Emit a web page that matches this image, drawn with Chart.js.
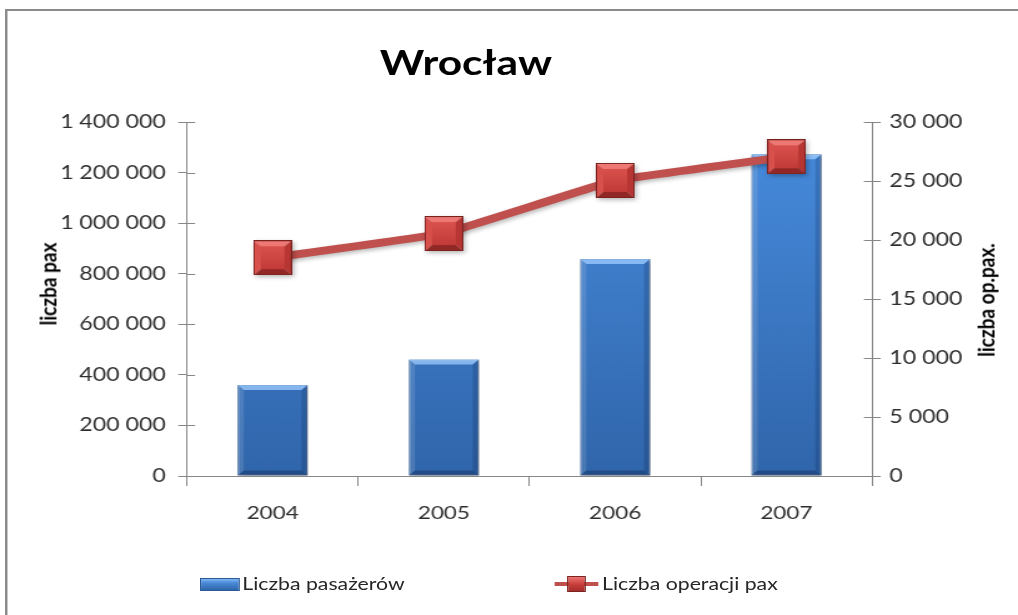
<!DOCTYPE html>
<html lang="pl">
<head>
<meta charset="utf-8">
<title>Wrocław</title>
<script src="https://cdn.jsdelivr.net/npm/chart.js@4.4.1/dist/chart.umd.min.js"></script>
<style>
  html, body { margin: 0; padding: 0; background: #fff; overflow: hidden; }
  /* the whole sheet is drawn narrow and widened, like the exported picture */
  #sheet {
    position: absolute; left: 0; top: 0;
    width: 815px; height: 615px;
    transform-origin: 0 0;
    transform: scaleX(1.2491);
    font-family: Lato, "Open Sans", sans-serif;
    color: #262626;
  }
  #frame {
    position: absolute; left: 4px; top: 9px;
    width: 900px; height: 700px;
    border-left: 2px solid #8c8c8c;
    border-top: 2.5px solid #8c8c8c;
  }
  #chart { position: absolute; left: 0; top: 0; }
  #title {
    position: absolute; left: 373px; top: 42px;
    transform: translateX(-50%);
    font-weight: 700; font-size: 34px; line-height: 40px;
    color: #000; white-space: nowrap;
  }
  .axis-title {
    position: absolute; white-space: nowrap;
    font-weight: 700; font-size: 19px; line-height: 20px; color: #000;
    transform: translate(-50%, -50%) rotate(-90deg);
  }
  #legend { position: absolute; left: 0; top: 574px; font-size: 17px; }
  .item { position: absolute; top: 0; height: 20px; white-space: nowrap; }
  .item span { position: absolute; top: 0; line-height: 20px; }
  .swatch-bar {
    position: absolute; top: 4px; width: 32px; height: 13px;
    background: linear-gradient(#7fb6f2 0, #4a8ad8 35%, #2f66ac 100%);
    border: 1px solid #2b5a94; box-sizing: border-box;
  }
  .swatch-line {
    position: absolute; top: 8px; width: 35px; height: 4px; background: #c0504d;
  }
  .swatch-mark {
    position: absolute; top: 2px; width: 15px; height: 16px;
    background: linear-gradient(#ec7471, #c63d3a 55%, #a52e2b);
    border: 1px solid #7d2321; box-sizing: border-box;
  }
</style>
</head>
<body>
<div id="sheet">
  <div id="frame"></div>
  <canvas id="chart" width="815" height="615" style="width:815px;height:615px"></canvas>
  <div id="title">Wrocław</div>
  <div class="axis-title" style="left:38px;top:284px">liczba pax</div>
  <div class="axis-title" style="left:789px;top:300px">liczba op.pax.</div>
  <div id="legend">
    <div class="item" style="left:160px">
      <div class="swatch-bar" style="left:0"></div>
      <span style="left:34px">Liczba pasażerów</span>
    </div>
    <div class="item" style="left:444px">
      <div class="swatch-line" style="left:0"></div>
      <div class="swatch-mark" style="left:10px"></div>
      <span style="left:38px">Liczba operacji pax</span>
    </div>
  </div>
</div>

<script>
const years      = ["2004", "2005", "2006", "2007"]
const passengers = [360000, 461000, 858000, 1272000]
const operations = [18500, 20550, 25050, 27050]

const paxTicks = { min: 0, max: 1400000, step: 200000 }
const opsTicks = { min: 0, max: 30000,  step: 5000 }

const axisColor = "#868686"
const tickColor = "#2e2e2e"
const s = 1018 / 815

const spaced = v => String(v).replace(/\B(?=(\d{3})+(?!\d))/g, " ")

// bevelled square marker, drawn once and reused as the point style
function makeMarker(w, h) {
  const c = document.createElement("canvas")
  c.width = w; c.height = h
  const g = c.getContext("2d")
  const d = 6
  const face = (pts, fill) => {
    g.beginPath()
    g.moveTo(pts[0][0], pts[0][1])
    pts.slice(1).forEach(p => g.lineTo(p[0], p[1]))
    g.closePath()
    g.fillStyle = fill
    g.fill()
  }
  face([[0, 0], [w, 0], [w - d, d], [d, d]], "#ee7874")
  face([[0, 0], [d, d], [d, h - d], [0, h]], "#d8504c")
  face([[w, 0], [w, h], [w - d, h - d], [w - d, d]], "#b73633")
  face([[0, h], [d, h - d], [w - d, h - d], [w, h]], "#922826")
  const mid = g.createLinearGradient(0, d, 0, h - d)
  mid.addColorStop(0, "#d9514d")
  mid.addColorStop(1, "#c33b38")
  g.fillStyle = mid
  g.fillRect(d, d, w - 2 * d, h - 2 * d)
  g.strokeStyle = "#7a2220"
  g.lineWidth = 1
  g.strokeRect(0.5, 0.5, w - 1, h - 1)
  return c
}

// soft highlights on the bar edges
const barBevel = {
  id: "barBevel",
  afterDatasetDraw(chart, args) {
    if (args.meta.type !== "bar") return
    const ctx = chart.ctx
    ctx.save()
    args.meta.data.forEach(bar => {
      const l = bar.x - bar.width / 2, r = bar.x + bar.width / 2
      const t = bar.y, b = bar.base
      const d = 5
      ctx.fillStyle = "rgba(160, 205, 255, 0.75)"
      ctx.beginPath()
      ctx.moveTo(l, t); ctx.lineTo(r, t); ctx.lineTo(r - d, t + d); ctx.lineTo(l + d, t + d)
      ctx.closePath(); ctx.fill()
      ctx.fillStyle = "rgba(255, 255, 255, 0.12)"
      ctx.beginPath()
      ctx.moveTo(l, t); ctx.lineTo(l + d, t + d); ctx.lineTo(l + d, b - d); ctx.lineTo(l, b)
      ctx.closePath(); ctx.fill()
      ctx.fillStyle = "rgba(0, 20, 60, 0.18)"
      ctx.beginPath()
      ctx.moveTo(r, t); ctx.lineTo(r, b); ctx.lineTo(r - d, b - d); ctx.lineTo(r - d, t + d)
      ctx.closePath(); ctx.fill()
      ctx.fillStyle = "rgba(0, 20, 60, 0.3)"
      ctx.beginPath()
      ctx.moveTo(l, b); ctx.lineTo(l + d, b - d); ctx.lineTo(r - d, b - d); ctx.lineTo(r, b)
      ctx.closePath(); ctx.fill()
    })
    ctx.restore()
  }
}

// value ticks cross the axis line, so add the short inner half
const innerTicks = {
  id: "innerTicks",
  afterDraw(chart) {
    const ctx = chart.ctx
    ctx.save()
    ctx.strokeStyle = axisColor
    ctx.lineWidth = 1
    ;["y", "y1"].forEach(id => {
      const sc = chart.scales[id]
      const edge = sc.position === "left" ? sc.right : sc.left
      const dir  = sc.position === "left" ? 1 : -1
      sc.ticks.forEach((t, i) => {
        const py = Math.round(sc.getPixelForTick(i)) + 0.5
        ctx.beginPath()
        ctx.moveTo(edge, py)
        ctx.lineTo(edge + dir * 6.5, py)
        ctx.stroke()
      })
    })
    ctx.restore()
  }
}

const shadow = {
  id: "shadow",
  beforeDatasetDraw(chart) {
    const ctx = chart.ctx
    ctx.save()
    ctx.shadowColor = "rgba(0, 0, 0, 0.28)"
    ctx.shadowBlur = 4
    ctx.shadowOffsetX = 1.5
    ctx.shadowOffsetY = 2
  },
  afterDatasetDraw(chart) {
    chart.ctx.restore()
  }
}

const ctx = document.getElementById("chart")

new Chart(ctx, {
  data: {
    labels: years,
    datasets: [
      {
        type: "line",
        label: "Liczba operacji pax",
        data: operations,
        yAxisID: "y1",
        order: 0,
        borderColor: "#c0504d",
        borderWidth: 8,
        tension: 0.05,
        pointStyle: makeMarker(31, 35),
        pointRadius: 16,
        pointHoverRadius: 16
      },
      {
        type: "bar",
        label: "Liczba pasażerów",
        data: passengers,
        yAxisID: "y",
        order: 1,
        barPercentage: 0.41,
        categoryPercentage: 1,
        borderColor: "#2b5a94",
        borderWidth: 1,
        borderSkipped: false,
        backgroundColor: c => {
          const area = c.chart.chartArea
          if (!area) return "#3c7dd0"
          const g = c.chart.ctx.createLinearGradient(0, area.top, 0, area.bottom)
          g.addColorStop(0, "#488ddf")
          g.addColorStop(1, "#3065aa")
          return g
        }
      }
    ]
  },
  options: {
    responsive: false,
    animation: false,
    devicePixelRatio: 1,
    layout: { padding: { top: 122, left: 0, right: 0, bottom: 0 } },
    plugins: {
      legend:  { display: false },
      tooltip: { enabled: false }
    },
    scales: {
      x: {
        grid:   { drawOnChartArea: false, color: axisColor, tickLength: 10, offset: true },
        border: { color: axisColor, width: 1 },
        ticks:  { color: tickColor, padding: 16, font: { family: "Lato", size: 18 } },
        afterFit: sc => { sc.height = 615 - 476 }
      },
      y: {
        position: "left",
        min: paxTicks.min,
        max: paxTicks.max,
        grid:   { drawOnChartArea: false, color: axisColor, tickLength: 7 },
        border: { color: axisColor, width: 1 },
        ticks:  {
          stepSize: paxTicks.step,
          color: tickColor,
          padding: 10,
          font: { family: "Lato", size: 18.5 },
          callback: v => spaced(v)
        },
        afterFit: sc => { sc.width = 187 / s }
      },
      y1: {
        position: "right",
        min: opsTicks.min,
        max: opsTicks.max,
        grid:   { drawOnChartArea: false, color: axisColor, tickLength: 7 },
        border: { color: axisColor, width: 1 },
        ticks:  {
          stepSize: opsTicks.step,
          color: tickColor,
          padding: 7,
          font: { family: "Lato", size: 18.5 },
          callback: v => spaced(v)
        },
        afterFit: sc => { sc.width = 815 - 872 / s }
      }
    }
  },
  plugins: [shadow, barBevel, innerTicks]
})
</script>
</body>
</html>
